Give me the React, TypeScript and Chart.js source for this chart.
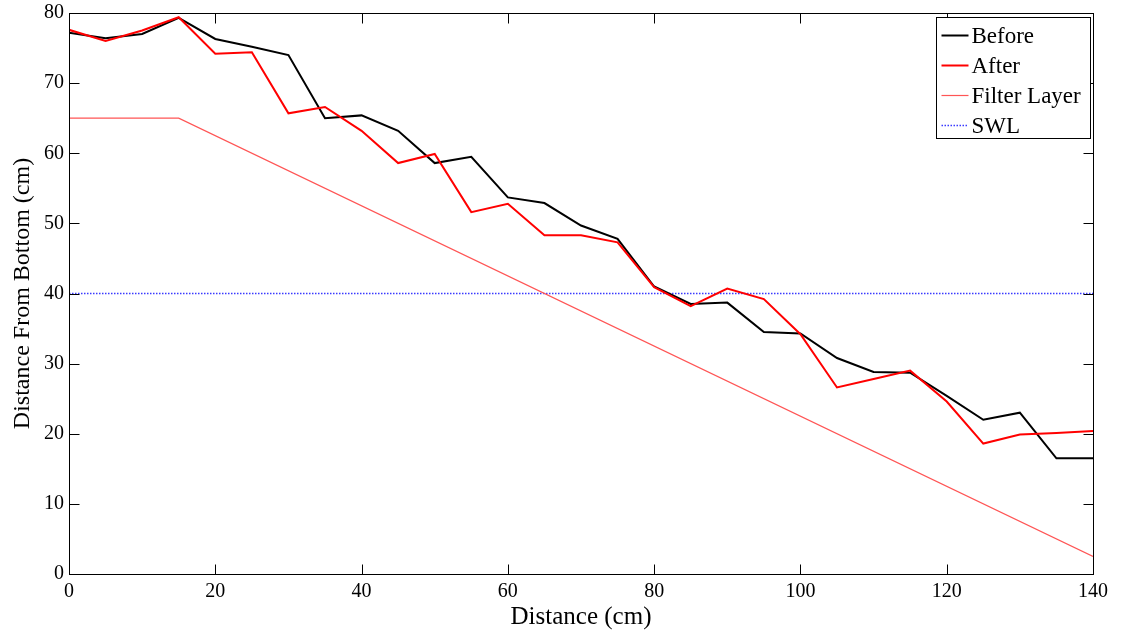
import React, { useEffect, useRef } from "react";
import { Chart, registerables } from "chart.js";

Chart.register(...registerables);

// Profile measurements along the flume (cm)
const distance = [0, 5, 10, 15, 20, 25, 30, 35, 40, 45, 50, 55, 60, 65, 70, 75, 80, 85, 90, 95, 100, 105, 110, 115, 120, 125, 130, 135, 140];
const before = [77.2, 76.4, 77.0, 79.3, 76.3, 75.2, 74.0, 65.0, 65.4, 63.2, 58.6, 59.5, 53.7, 52.9, 49.7, 47.8, 41.0, 38.5, 38.7, 34.5, 34.3, 30.8, 28.8, 28.7, 25.4, 22.0, 23.0, 16.5, 16.5];
const after = [77.6, 76.0, 77.5, 79.4, 74.2, 74.4, 65.7, 66.6, 63.2, 58.6, 59.9, 51.6, 52.8, 48.3, 48.3, 47.3, 40.9, 38.2, 40.7, 39.2, 34.2, 26.6, 27.8, 29.0, 24.6, 18.6, 19.9, 20.1, 20.4];
const filterX = [0, 15, 140];
const filterY = [65, 65, 2.5];
const swlX = [0, 140];
const swlY = [40, 40];
const xTicks = [0, 20, 40, 60, 80, 100, 120, 140];
const yTicks = [0, 10, 20, 30, 40, 50, 60, 70, 80];

const FONT = "'Liberation Serif', 'Times New Roman', serif";

const pts = (xs: number[], ys: number[]) => xs.map((x, i) => ({ x, y: ys[i] }));

// Axes box with inward ticks on all four sides, plus the legend panel
const frameAndLegend = {
  id: "frameAndLegend",
  afterDraw(chart: any) {
    const { ctx, chartArea: a, scales } = chart;
    const x = scales.x;
    const y = scales.y;
    ctx.save();
    ctx.strokeStyle = "#000";
    ctx.lineWidth = 1;
    const L = Math.round(a.left) + 0.5;
    const R = Math.round(a.right) + 0.5;
    const T = Math.round(a.top) + 0.5;
    const B = Math.round(a.bottom) + 0.5;
    ctx.strokeRect(L, T, R - L, B - T);
    const tl = 10;
    ctx.beginPath();
    for (const v of xTicks) {
      const px = Math.round(x.getPixelForValue(v)) + 0.5;
      ctx.moveTo(px, B);
      ctx.lineTo(px, B - tl);
      ctx.moveTo(px, T);
      ctx.lineTo(px, T + tl);
    }
    for (const v of yTicks) {
      const py = Math.round(y.getPixelForValue(v)) + 0.5;
      ctx.moveTo(L, py);
      ctx.lineTo(L + tl, py);
      ctx.moveTo(R, py);
      ctx.lineTo(R - tl, py);
    }
    ctx.stroke();

    // legend box in the upper right corner
    const bw = 154;
    const bh = 121;
    const bx = Math.round(a.right) - 3 - bw + 0.5;
    const by = Math.round(a.top) + 4 + 0.5;
    ctx.fillStyle = "#fff";
    ctx.fillRect(bx, by, bw, bh);
    ctx.strokeStyle = "#000";
    ctx.lineWidth = 1;
    ctx.strokeRect(bx, by, bw, bh);
    ctx.font = `23px ${FONT}`;
    ctx.textBaseline = "middle";
    ctx.textAlign = "left";
    chart.data.datasets.forEach((ds: any, i: number) => {
      const cy = by + 18 + i * 30;
      ctx.save();
      ctx.strokeStyle = ds.borderColor;
      ctx.lineWidth = ds.borderWidth;
      ctx.setLineDash(ds.borderDash || []);
      ctx.beginPath();
      ctx.moveTo(bx + 5, cy);
      ctx.lineTo(bx + 32, cy);
      ctx.stroke();
      ctx.restore();
      ctx.fillStyle = "#000";
      ctx.fillText(ds.label, bx + 35, cy + 1);
    });
    ctx.restore();
  },
};

export default function App() {
  const ref = useRef<HTMLCanvasElement>(null);

  useEffect(() => {
    document.body.style.margin = "0";
    const canvas = ref.current;
    if (!canvas) return;
    const chart = new Chart(canvas, {
      type: "line",
      data: {
        datasets: [
          {
            label: "Before",
            data: pts(distance, before),
            borderColor: "#000000",
            borderWidth: 2,
            pointRadius: 0,
            tension: 0,
            order: 2,
          },
          {
            label: "After",
            data: pts(distance, after),
            borderColor: "#ff0000",
            borderWidth: 2,
            pointRadius: 0,
            tension: 0,
            order: 1,
          },
          {
            label: "Filter Layer",
            data: pts(filterX, filterY),
            borderColor: "#ff5555",
            borderWidth: 1.2,
            pointRadius: 0,
            tension: 0,
            order: 3,
          },
          {
            label: "SWL",
            data: pts(swlX, swlY),
            borderColor: "#3a3aff",
            borderWidth: 1.4,
            borderDash: [1.5, 1.5],
            pointRadius: 0,
            tension: 0,
            order: 4,
          },
        ],
      },
      options: {
        responsive: false,
        animation: false,
        events: [],
        layout: { padding: { top: 13, right: 31, left: 0, bottom: 0 } },
        plugins: { legend: { display: false }, tooltip: { enabled: false } },
        scales: {
          x: {
            type: "linear",
            min: 0,
            max: 140,
            afterFit: (s: any) => {
              s.height = 58;
            },
            afterBuildTicks: (s: any) => {
              s.ticks = xTicks.map((v) => ({ value: v }));
            },
            grid: { display: false, drawTicks: false },
            border: { display: false },
            ticks: {
              color: "#000",
              font: { family: FONT, size: 20 },
              padding: 6,
              maxRotation: 0,
            },
            title: {
              display: true,
              text: "Distance (cm)",
              color: "#000",
              font: { family: FONT, size: 25 },
              padding: { top: -9, bottom: 0 },
            },
          },
          y: {
            type: "linear",
            min: 0,
            max: 80,
            afterFit: (s: any) => {
              s.width = 69;
              s.paddingTop = 0;
              s.paddingBottom = 0;
            },
            afterBuildTicks: (s: any) => {
              s.ticks = yTicks.map((v) => ({ value: v }));
            },
            grid: { display: false, drawTicks: false },
            border: { display: false },
            ticks: {
              color: "#000",
              font: { family: FONT, size: 20 },
              padding: 5,
            },
            title: {
              display: true,
              text: "Distance From Bottom (cm)",
              color: "#000",
              font: { family: FONT, size: 24 },
              padding: { top: 8, bottom: 0 },
            },
          },
        },
      },
      plugins: [frameAndLegend],
    });
    return () => chart.destroy();
  }, []);

  return <canvas ref={ref} width={1124} height={632} style={{ display: "block" }} />;
}
